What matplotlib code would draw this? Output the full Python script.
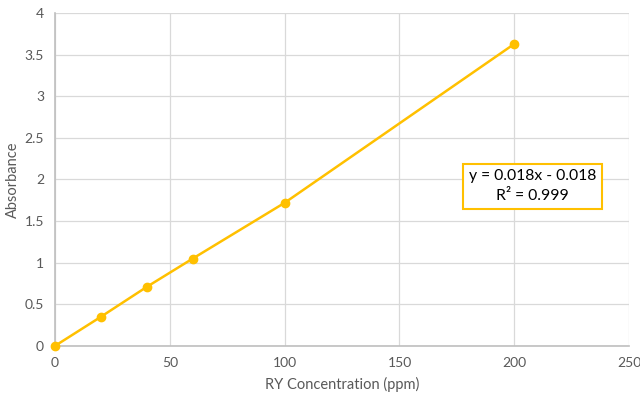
import numpy as np
import matplotlib.pyplot as plt

plt.rcParams['font.family'] = ['Lato', 'DejaVu Sans']

# RY standard curve
conc = [0, 20, 40, 60, 100, 200]
absorb = [0.0, 0.35, 0.71, 1.05, 1.72, 3.63]
xticks = [0, 50, 100, 150, 200, 250]
yticks = [0, 0.5, 1, 1.5, 2, 2.5, 3, 3.5, 4]
ytick_labels = ['0', '0.5', '1', '1.5', '2', '2.5', '3', '3.5', '4']

orange = '#FFC000'
grey = '#595959'

fig = plt.figure(figsize=(6.4, 3.98), dpi=100)
ax = fig.add_axes([0.086, 0.131, 0.897, 0.836])

ax.plot(conc, absorb, color=orange, lw=1.8, marker='o', ms=6,
        markerfacecolor=orange, markeredgecolor=orange, clip_on=False, zorder=3)

ax.set_xlim(0, 250)
ax.set_ylim(0, 4)
ax.set_xticks(xticks)
ax.set_yticks(yticks)
ax.set_yticklabels(ytick_labels)
ax.grid(True, color='#d9d9d9', lw=0.9)
ax.set_axisbelow(True)
for s in ['top', 'right']:
    ax.spines[s].set_visible(False)
for s in ['left', 'bottom']:
    ax.spines[s].set_color('#bfbfbf')
    ax.spines[s].set_linewidth(1.2)
ax.tick_params(length=0, colors=grey, labelsize=10, pad=8)

ax.set_xlabel('RY Concentration (ppm)', color=grey, fontsize=10.5, labelpad=6)
ax.set_ylabel('Absorbance', color=grey, fontsize=10.5, labelpad=3)

ax.text(208, 1.92, 'y = 0.018x - 0.018\nR² = 0.999', ha='center', va='center',
        fontsize=11.3, color='black', linespacing=1.55,
        bbox=dict(boxstyle='square,pad=0.35', fc='white', ec=orange, lw=1.5))

plt.savefig('out.png', dpi=100)
